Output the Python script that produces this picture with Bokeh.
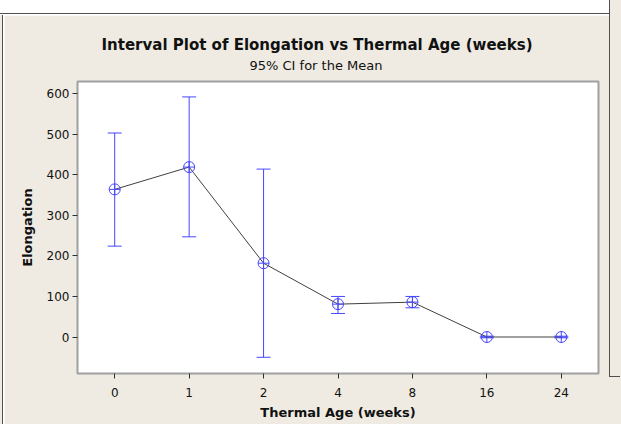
from bokeh.plotting import figure
from bokeh.models import (ColumnDataSource, FactorRange, Range1d, Whisker, TeeHead,
                          Title, FixedTicker, Div)
from bokeh.layouts import row, column
from bokeh.embed import file_html
from bokeh.resources import INLINE

# ---- data ----
weeks = ["0", "1", "2", "4", "8", "16", "24"]
means = [364, 419, 182, 81, 86, 0, 0]
upper = [503, 592, 414, 100, 100, 2, 2]
lower = [224, 247, -50, 58, 72, -2, -2]
y_ticks = [0, 100, 200, 300, 400, 500, 600]

BEIGE = "#EFEBE2"
BLUE = "#4646FF"
EDGE = "#505050"

src = ColumnDataSource(dict(x=weeks, mean=means, upper=upper, lower=lower))

p = figure(width=605, height=409, output_backend="svg", toolbar_location=None,
           x_range=FactorRange(factors=weeks, range_padding=0),
           y_range=Range1d(-90, 630),
           min_border_left=73, min_border_right=11, min_border_top=66, min_border_bottom=51,
           margin=0)

p.border_fill_color = BEIGE
p.background_fill_color = "white"
p.outline_line_color = "#A0A0A0"
p.outline_line_width = 2
p.grid.visible = False

# error bars
p.add_layout(Whisker(source=src, base="x", upper="upper", lower="lower",
                     line_color=BLUE, line_width=1,
                     upper_head=TeeHead(size=14, line_color=BLUE, line_width=1),
                     lower_head=TeeHead(size=14, line_color=BLUE, line_width=1)))

# connecting line and markers
p.line("x", "mean", source=src, line_color="#404040", line_width=1)
p.scatter("x", "mean", source=src, marker="circle_cross", size=11,
          line_color=BLUE, fill_color=None, line_width=1)

# axes
for ax in (p.xaxis[0], p.yaxis[0]):
    ax.axis_line_color = None
    ax.major_tick_line_color = "#303030"
    ax.major_tick_out = 5
    ax.major_tick_in = 0
    ax.minor_tick_line_color = None
    ax.major_label_text_font = "DejaVu Sans"
    ax.major_label_text_font_size = "12px"
    ax.major_label_text_color = "#111111"
    ax.axis_label_text_font = "DejaVu Sans"
    ax.axis_label_text_font_style = "bold"
    ax.axis_label_text_font_size = "13px"
    ax.axis_label_text_color = "#111111"

p.yaxis[0].ticker = FixedTicker(ticks=y_ticks)
p.yaxis[0].major_label_standoff = 3
p.yaxis[0].axis_label = "Elongation"
p.yaxis[0].axis_label_standoff = 9
p.xaxis[0].major_label_standoff = 9
p.xaxis[0].axis_label = "Thermal Age (weeks)"
p.xaxis[0].axis_label_standoff = 5

# titles
p.add_layout(Title(text="95% CI for the Mean", align="left", offset=172,
                   text_font="DejaVu Sans", text_font_style="normal",
                   text_font_size="13px", text_color="#111111", standoff=17), "above")
p.title.text = "Interval Plot of Elongation vs Thermal Age (weeks)"
p.title.align = "left"
p.title.offset = 24
p.title.text_font = "DejaVu Sans"
p.title.text_font_style = "bold"
p.title.text_font_size = "15px"
p.title.text_color = "#111111"
p.title.standoff = -12

# window-pane decorations around the chart
top_strip = Div(width=609, height=15, margin=0,
                text='<div style="width:609px;height:14px;background:white;'
                     f'border-bottom:1px solid {EDGE};"></div>')
left_strip = Div(width=4, height=409, margin=0,
                 text=f'<div style="width:3px;height:409px;background:{BEIGE};'
                      f'border-right:1px solid {EDGE};"></div>')
right_strip = Div(width=12, height=424, margin=0, styles={"background-color": BEIGE},
                  text=f'<div style="width:11px;height:377px;background:{BEIGE};'
                       f'border-left:1px solid {EDGE};border-bottom:1px solid {EDGE};"></div>')

layout = row(column(top_strip, row(left_strip, p, spacing=0), spacing=0),
             right_strip, spacing=0)

open("out.html", "w").write(file_html(layout, INLINE))
